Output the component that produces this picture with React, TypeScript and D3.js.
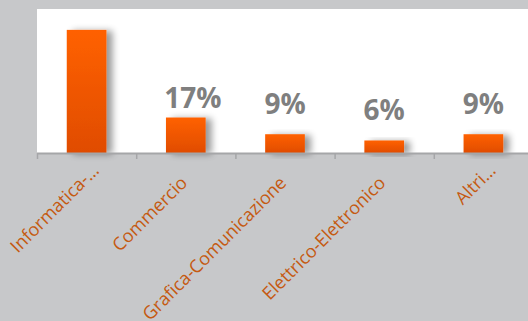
import React from "react";
import * as d3 from "d3";

const categories = ["Informatica-…", "Commercio", "Grafica-Comunicazione", "Elettrico-Elettronico", "Altri…"];
const values = [59, 17, 9, 6, 9];
const valueLabels = ["", "17%", "9%", "6%", "9%"];

const W = 528;
const H = 321;
const plot = { left: 37, right: 528, top: 9, bottom: 153 };
// manual label nudge for the "17%" label as in the reference
const labelNudge = [{ dx: 0, dy: 0 }, { dx: 7, dy: 10 }, { dx: 0, dy: 0 }, { dx: 0, dy: 0 }, { dx: 0, dy: 0 }];

export default function App() {
  const x = d3.scaleBand<string>().domain(categories).range([plot.left, plot.left + 99.2 * 5]).paddingInner(0.6).paddingOuter(0.3);
  const y = d3.scaleLinear().domain([0, 69]).range([plot.bottom, plot.top]);
  const band = x.step();
  const ticks = d3.range(categories.length + 1).map((i) => plot.left + i * band);

  return (
    <svg width={W} height={H} style={{ position: "absolute", left: 0, top: 0, display: "block" }}>
      <defs>
        <linearGradient id="barGrad" x1="0" y1="0" x2="0" y2="1">
          <stop offset="0%" stopColor="#ff6100" />
          <stop offset="100%" stopColor="#e04c00" />
        </linearGradient>
        <filter id="shadow" x="-30%" y="-30%" width="180%" height="160%">
          <feGaussianBlur in="SourceAlpha" stdDeviation="3.5" />
          <feOffset dx="6" dy="1" result="ob" />
          <feComponentTransfer>
            <feFuncA type="linear" slope="0.4" />
          </feComponentTransfer>
          <feMerge>
            <feMergeNode />
            <feMergeNode in="SourceGraphic" />
          </feMerge>
        </filter>
      </defs>
      <rect x={0} y={0} width={W} height={H} fill="#c7c8ca" />
      <rect x={plot.left} y={plot.top} width={plot.right - plot.left} height={plot.bottom - plot.top} fill="#ffffff" />
      {categories.map((c, i) => (
        <rect
          key={c}
          x={x(c)}
          y={y(values[i])}
          width={x.bandwidth()}
          height={plot.bottom - y(values[i])}
          fill="url(#barGrad)"
          filter="url(#shadow)"
        />
      ))}
      <line x1={plot.left} x2={plot.right} y1={plot.bottom + 0.5} y2={plot.bottom + 0.5} stroke="#a5a6a8" strokeWidth={2} />
      {ticks.map((t, i) => (
        <line key={i} x1={t + 0.5} x2={t + 0.5} y1={plot.bottom} y2={plot.bottom + 6} stroke="#a5a6a8" strokeWidth={1.5} />
      ))}
      {categories.map((c, i) =>
        valueLabels[i] ? (
          <text
            key={"v" + c}
            x={(x(c) as number) + x.bandwidth() / 2 + labelNudge[i].dx}
            y={y(values[i]) - 20 + labelNudge[i].dy}
            textAnchor="middle"
            fontFamily="'Open Sans', sans-serif"
            fontWeight={700}
            fontSize={28}
            fill="#7f7f7f"
          >
            {valueLabels[i]}
          </text>
        ) : null
      )}
      {categories.map((c, i) => {
        const truncated = c.endsWith("…");
        const cx = (x(c) as number) + x.bandwidth() / 2 + (truncated ? 13.5 : 2.5);
        const cy = truncated ? 171.5 : 184;
        return (
          <text
            key={"c" + c}
            transform={`translate(${cx},${cy}) rotate(-45)`}
            textAnchor="end"
            fontFamily="'Open Sans', sans-serif"
            fontSize={18}
            fill="#c55a11"
          >
            {c}
          </text>
        );
      })}
    </svg>
  );
}
